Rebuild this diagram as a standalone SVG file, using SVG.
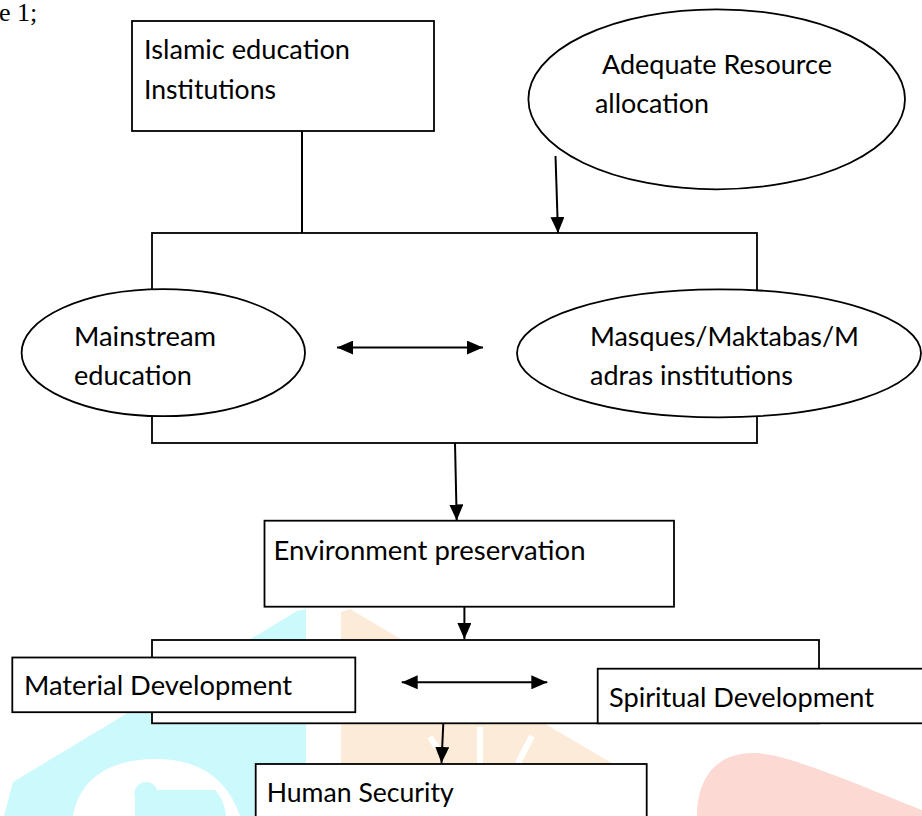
<svg xmlns="http://www.w3.org/2000/svg" width="922" height="816" viewBox="0 0 922 816">
<style>
.box{fill:#fff;stroke:#000;stroke-width:1.8}
.t{font-family:Lato,"Open Sans",sans-serif;font-size:26.5px;fill:#000}
.c{stroke:#000;stroke-width:2;fill:none}
</style>
<defs>
<marker id="ah" viewBox="0 0 16 14" markerUnits="userSpaceOnUse" markerWidth="16" markerHeight="14" refX="16" refY="7" orient="auto-start-reverse">
<path d="M0,0 L16,7 L0,14 z" fill="#000"/>
</marker>
</defs>
<rect width="922" height="816" fill="#fff"/>
<g id="watermark">
<path d="M297,611 L306,609 L306,816 L4,816 L13,782 Z" fill="#ccf9fb"/>
<path d="M73,816 C80,775 115,758 160,759 C200,760 228,780 240,816 Z" fill="#fff"/>
<path d="M135,816 L135,797 A11,11 0 0 1 157,790 L215,790 C222,798 225,806 226,816 Z" fill="#ccf9fb"/>
<path d="M341,816 L341,612 L350,609 L620,768 L620,816 Z" fill="#fdebd9"/>
<path d="M480,727 L480,763 M532,736 L518,763 M430,737 L437,748" stroke="#fff" stroke-width="6" fill="none"/>
<path d="M697,816 C697,780 715,752 755,753 C790,754 870,790 922,810 L922,816 Z" fill="#fdd9d3"/>
</g>
<text class="t" x="-1" y="21" style="font-family:'Liberation Serif',serif;font-size:26px">e 1;</text>
<g id="islamic">
<rect class="box" x="132" y="21" width="302" height="110"/>
<text class="t" x="144" y="59" textLength="206" lengthAdjust="spacingAndGlyphs">Islamic education</text>
<text class="t" x="144" y="99" textLength="132" lengthAdjust="spacingAndGlyphs">Institutions</text>
</g>
<g id="adequate">
<ellipse class="box" cx="716.7" cy="99.3" rx="188.3" ry="90"/>
<text class="t" x="602" y="74" textLength="230" lengthAdjust="spacingAndGlyphs">Adequate Resource</text>
<text class="t" x="595" y="113" textLength="114" lengthAdjust="spacingAndGlyphs">allocation</text>
</g>
<g id="upper-frame">
<rect class="box" x="152" y="233" width="605" height="210"/>
</g>
<g id="mainstream">
<ellipse class="box" cx="163.3" cy="352.7" rx="141.7" ry="63.5"/>
<text class="t" x="74" y="346" textLength="142" lengthAdjust="spacingAndGlyphs">Mainstream</text>
<text class="t" x="74" y="385" textLength="118" lengthAdjust="spacingAndGlyphs">education</text>
</g>
<g id="masques">
<ellipse class="box" cx="719" cy="353.3" rx="202" ry="64"/>
<text class="t" x="590" y="346" textLength="269" lengthAdjust="spacingAndGlyphs">Masques/Maktabas/M</text>
<text class="t" x="590" y="385" textLength="203" lengthAdjust="spacingAndGlyphs">adras institutions</text>
</g>
<g id="environment">
<rect class="box" x="264.5" y="520.7" width="409.5" height="86"/>
<text class="t" x="273.5" y="560" textLength="312" lengthAdjust="spacingAndGlyphs">Environment preservation</text>
</g>
<g id="lower-frame">
<rect class="box" x="152" y="640" width="667" height="83.3"/>
</g>
<g id="material">
<rect class="box" x="12.3" y="657.5" width="343" height="54.7"/>
<text class="t" x="24" y="695" textLength="268" lengthAdjust="spacingAndGlyphs">Material Development</text>
</g>
<g id="spiritual">
<rect class="box" x="597.7" y="668.7" width="340" height="54.6"/>
<text class="t" x="609" y="706.7" textLength="265" lengthAdjust="spacingAndGlyphs">Spiritual Development</text>
</g>
<g id="human">
<rect class="box" x="255.7" y="764" width="391" height="70"/>
<text class="t" x="266.7" y="801.7" textLength="187" lengthAdjust="spacingAndGlyphs">Human Security</text>
</g>
<g id="connectors">
<line class="c" x1="302" y1="131" x2="302" y2="233"/>
<line class="c" x1="555.5" y1="156" x2="558" y2="233" marker-end="url(#ah)"/>
<line class="c" x1="337" y1="347.6" x2="483" y2="347.6" marker-start="url(#ah)" marker-end="url(#ah)"/>
<line class="c" x1="455" y1="443" x2="456.7" y2="520.5" marker-end="url(#ah)"/>
<line class="c" x1="464.4" y1="606.7" x2="464.4" y2="639" marker-end="url(#ah)"/>
<line class="c" x1="401.7" y1="682.3" x2="547.3" y2="682.3" marker-start="url(#ah)" marker-end="url(#ah)"/>
<line class="c" x1="443.3" y1="723.3" x2="441.5" y2="763" marker-end="url(#ah)"/>
</g>
</svg>
